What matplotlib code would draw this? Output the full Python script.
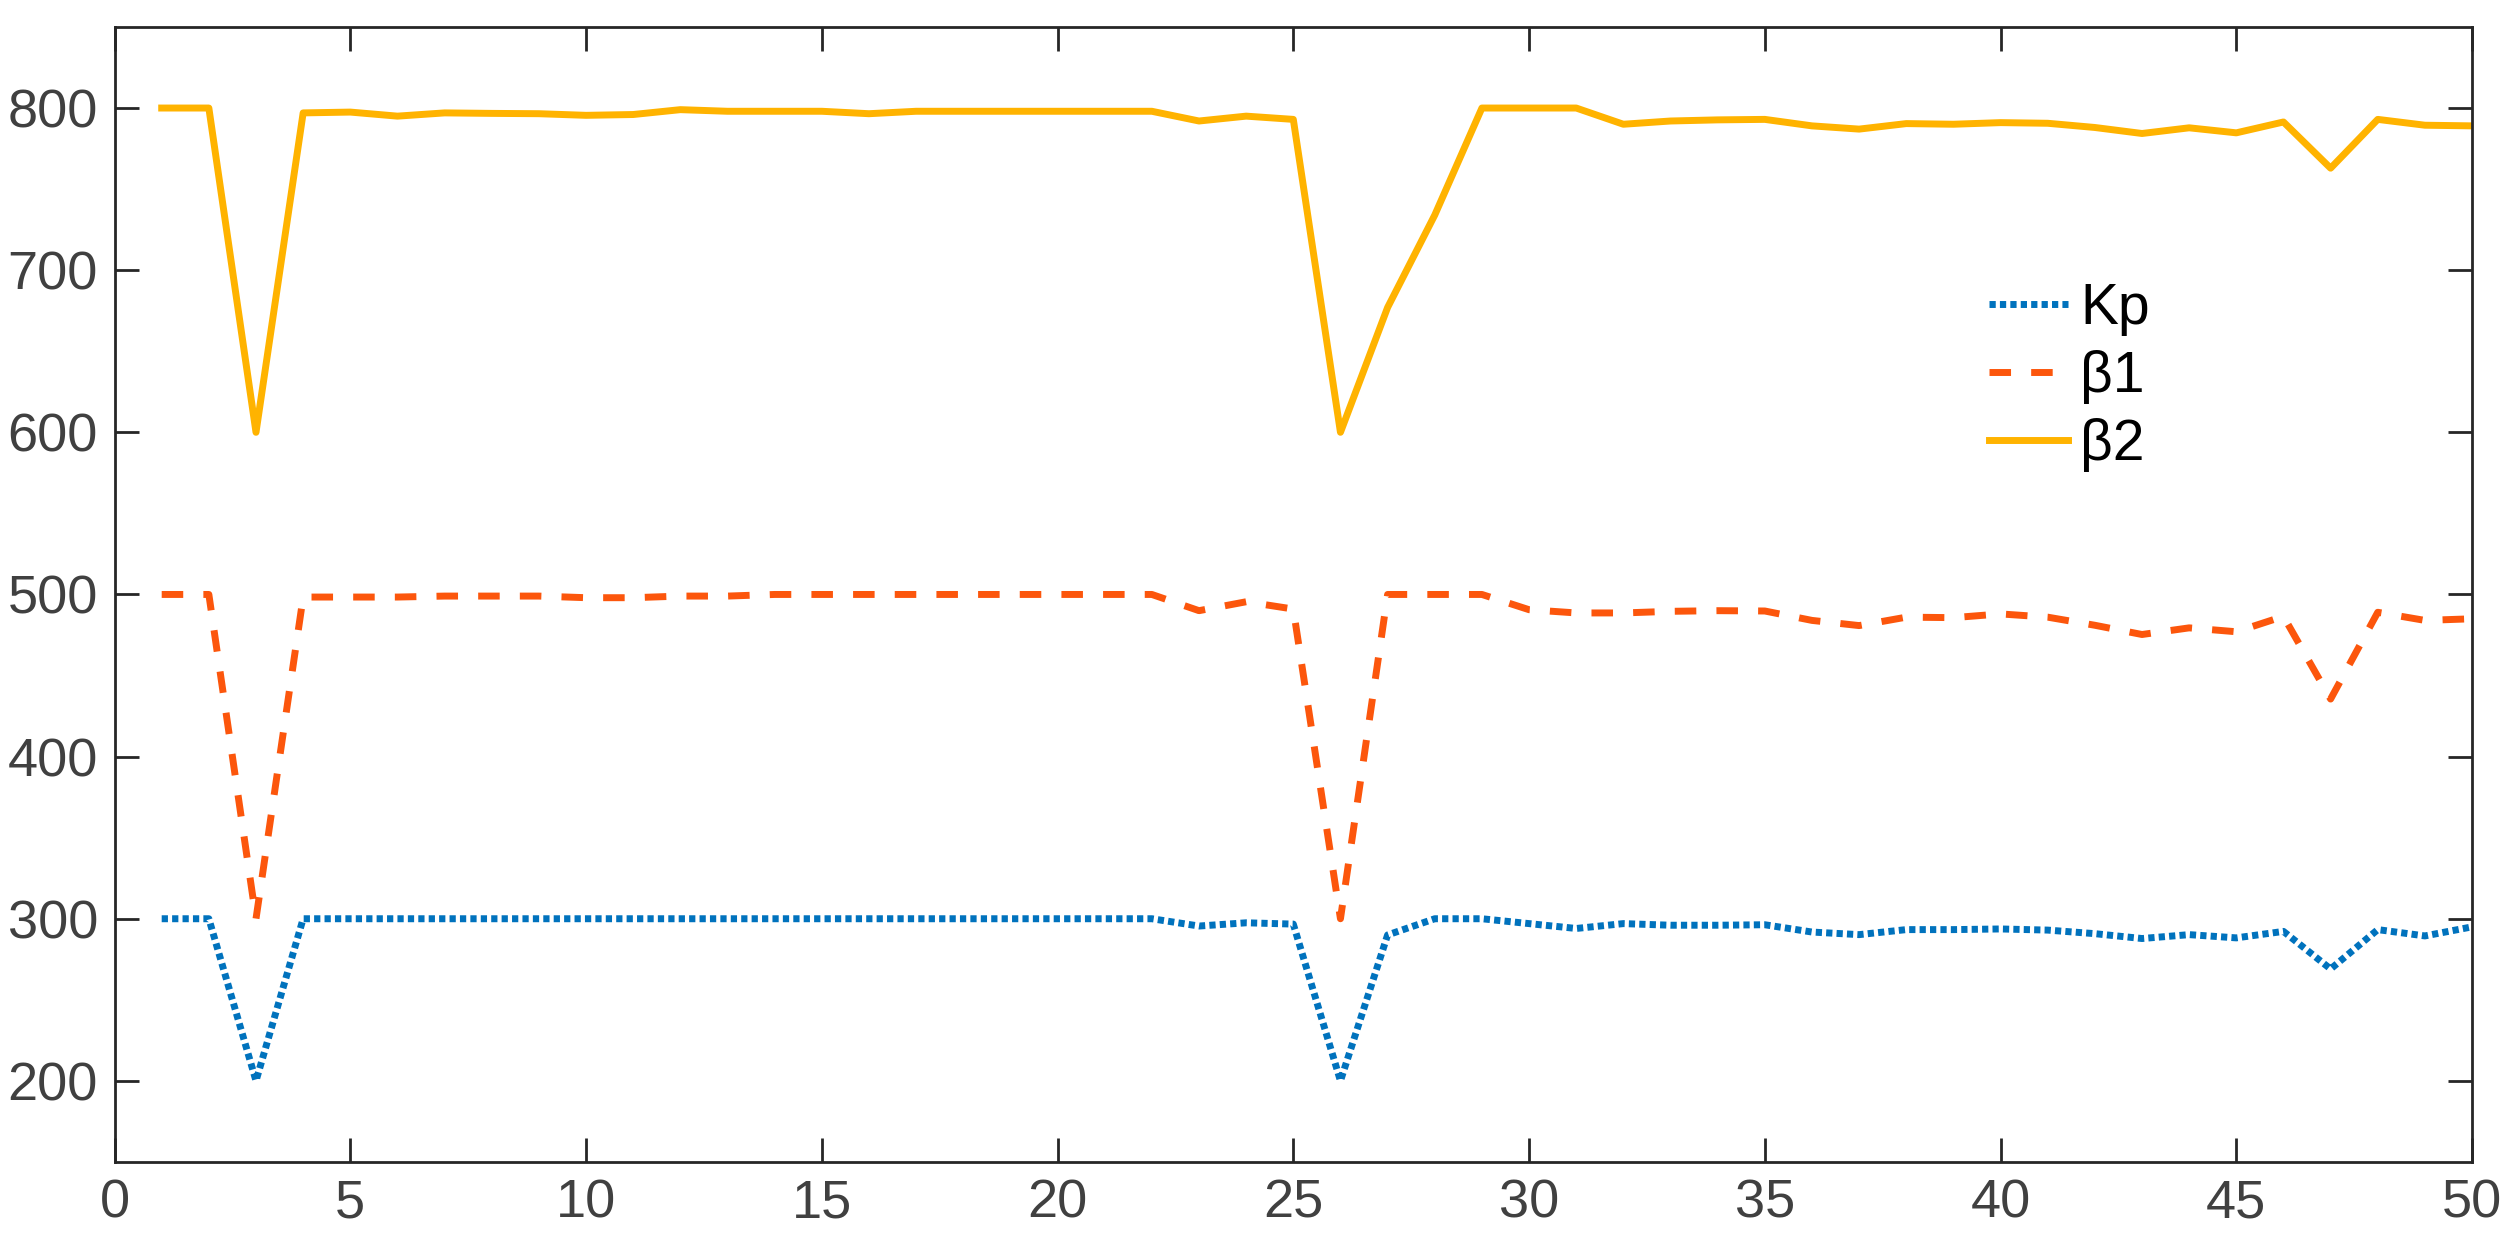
import matplotlib
matplotlib.use('Agg')
import matplotlib.pyplot as plt

# values, x = 1..50
x = list(range(1, 51))

kp = [300, 300, 200, 300, 300, 300, 300, 300, 300, 300,
      300, 300, 300, 300, 300, 300, 300, 300, 300, 300,
      300, 300, 295.5, 297.5, 296.7, 200, 290, 300, 300, 297,
      294, 297, 296, 296, 296.3, 291.8, 290.2, 293.3, 293.3, 293.7,
      293, 290.8, 287.8, 290.2, 288.2, 292.2, 269, 293.3, 289.4, 295]

beta1 = [500, 500, 300, 498.4, 498.4, 498.4, 499, 499, 499, 498,
         498, 499, 499, 500, 500, 500, 500, 500, 500, 500,
         500, 500, 490, 495.5, 491, 300, 500, 500, 500, 490.6,
         488.6, 488.6, 489.6, 490, 489.8, 484, 480.8, 486, 485.7, 488,
         486, 481, 475.3, 479.4, 477, 486.5, 435.5, 489, 484, 485]

beta2 = [800, 800, 600, 797, 797.5, 795, 797, 796.7, 796.5, 795.5,
         796, 799, 798, 798, 798, 796.5, 798, 798, 798, 798,
         798, 798, 792, 795, 793, 600, 677, 734, 800, 800,
         800, 790, 792, 792.7, 793, 789, 787, 790.4, 790, 791,
         790.6, 788, 784.3, 787.8, 784.7, 791.4, 762.9, 793, 789.4, 789]

labels = ['Kp', 'β1', 'β2']
xticks = [0, 5, 10, 15, 20, 25, 30, 35, 40, 45, 50]
yticks = [200, 300, 400, 500, 600, 700, 800]

plt.rcParams['font.family'] = ['Liberation Sans', 'DejaVu Sans']

fig = plt.figure(figsize=(12.56, 6.27), dpi=200)
ax = fig.add_axes([0.0456, 0.0734, 0.9385, 0.9051])

lw = 2.5
ax.plot(x, kp, color='#0072BD', lw=lw, linestyle=(0, (0.9, 0.6)),
        dash_capstyle='butt', label=labels[0])
ax.plot(x, beta1, color='#FC560C', lw=lw, linestyle=(0, (3.1, 2.9)),
        dash_capstyle='butt', label=labels[1])
ax.plot(x, beta2, color='#FFB300', lw=lw, linestyle='-', label=labels[2])

ax.set_xlim(0, 50)
ax.set_ylim(150, 850)
ax.set_xticks(xticks)
ax.set_yticks(yticks)

axis_col = '#262626'
for s in ax.spines.values():
    s.set_color(axis_col)
    s.set_linewidth(1.0)
ax.tick_params(direction='in', length=8.6, width=1.0, color=axis_col,
               labelcolor='#404040', labelsize=19.5, top=True, right=True, pad=6)

ax.legend(loc='upper left', bbox_to_anchor=(0.795, 0.775), frameon=False,
          fontsize=20.5, handlelength=1.4, handletextpad=0.2,
          borderpad=0, borderaxespad=0, labelspacing=0.24)

fig.savefig('out.png', dpi=200)
